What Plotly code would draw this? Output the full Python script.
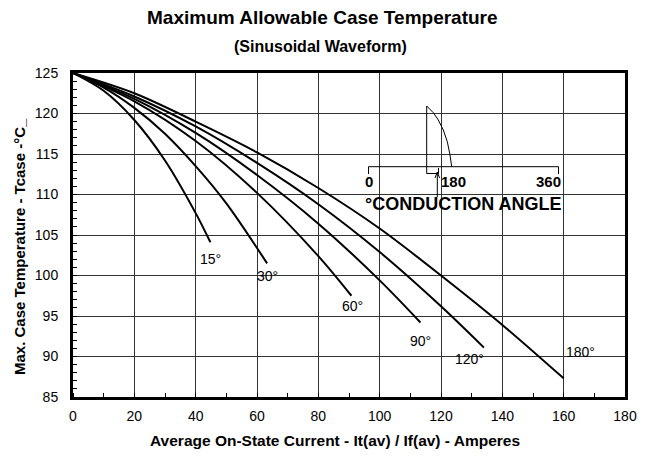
import plotly.graph_objects as go

# ---------------- data ----------------
x15 = [0, 10, 20, 30, 40, 44.8]
y15 = [125, 122.8, 119.2, 114.2, 107.7, 104.1]

x30 = [0, 10, 20, 30, 40, 50, 63.3]
y30 = [125, 123.2, 120.7, 117.5, 113.5, 108.9, 101.5]

x60 = [0, 20, 40, 60, 80, 90.8]
y60 = [125, 121.5, 116.6, 110.2, 102.4, 97.5]

x90 = [0, 20, 40, 60, 80, 100, 113.3]
y90 = [125, 121.8, 117.6, 112.4, 106.4, 99.4, 94.2]

x120 = [0, 20, 40, 60, 80, 100, 120, 134]
y120 = [125, 122.1, 118.4, 113.9, 108.8, 102.9, 96.2, 91.1]

x180 = [0, 20, 40, 60, 80, 100, 120, 140, 160]
y180 = [125, 122.5, 119.0, 115.2, 110.8, 105.8, 100.0, 93.9, 87.3]

curve_labels = ["15°", "30°", "60°", "90°", "120°", "180°"]
label_x = [44.9, 63.4, 91.0, 113.2, 129.3, 165.4]
label_y = [102.0, 99.95, 96.2, 91.9, 89.75, 90.5]

x_ticks = [0, 20, 40, 60, 80, 100, 120, 140, 160, 180]
y_ticks = [85, 90, 95, 100, 105, 110, 115, 120, 125]

title = "Maximum Allowable Case Temperature"
subtitle = "(Sinusoidal Waveform)"
x_title = "Average On-State Current - It(av) / If(av) - Amperes"
y_title = "Max. Case Temperature - Tcase -°C_"

# ---------------- figure ----------------
FONT = "Liberation Sans, Arial, sans-serif"
fig = go.Figure()

series = [(x15, y15), (x30, y30), (x60, y60), (x90, y90), (x120, y120), (x180, y180)]
for xs, ys in series:
    fig.add_trace(go.Scatter(x=xs, y=ys, mode="lines",
                             line=dict(color="black", width=2, shape="spline", smoothing=0.9),
                             showlegend=False, hoverinfo="skip"))

for t, lx, ly in zip(curve_labels, label_x, label_y):
    fig.add_annotation(x=lx, y=ly, text=t, showarrow=False, xanchor="center", yanchor="middle",
                       font=dict(family=FONT, size=14, color="black"))

# page geometry (the page body has an 8px margin)
OFF = 8
W, H = 650 - OFF, 458 - OFF
PL, PT, PR, PB = 73, 73, 625, 397          # plot area in page pixels
ML, MT = PL - OFF, PT - OFF
MR, MB = (W + OFF) - PR, (H + OFF) - PB
pw, ph = PR - PL, PB - PT


def px(p):
    return (p - PL) / pw * 180


def py(p):
    return 125 - (p - PT) / ph * 40


def ppx(p):
    return (p - PL) / pw


def ppy(p):
    return (PB - p) / ph


line_k = dict(color="black", width=1)
# bracket 0..360
fig.add_shape(type="path", xref="x", yref="y", line=line_k,
              path=f"M {px(368.5)},{py(174)} L {px(368.5)},{py(166.7)} L {px(558.5)},{py(166.7)} L {px(558.5)},{py(174)}")
# half-sine tail
pts = [(426.7, 106), (433.3, 112.7), (438.3, 120), (443.3, 130), (447.3, 141.7), (450, 155), (451.7, 166.7)]
path = f"M {px(426.7)},{py(173.5)} L {px(426.7)},{py(106)}"
for a, b in pts[1:]:
    path += f" L {px(a)},{py(b)}"
fig.add_shape(type="path", xref="x", yref="y", line=line_k, path=path)
# small bracket under
fig.add_shape(type="path", xref="x", yref="y", line=line_k,
              path=f"M {px(426.7)},{py(173.5)} L {px(438.5)},{py(173.5)} L {px(438.5)},{py(168)}")
# arrow
fig.add_shape(type="path", xref="x", yref="y", line=line_k,
              path=f"M {px(437.3)},{py(197)} L {px(437.3)},{py(172)} M {px(435)},{py(178)} L {px(437.3)},{py(172)} L {px(439.6)},{py(178)}")

for t, cx in [("0", 368.5), ("180", 453.5), ("360", 548.5)]:
    fig.add_annotation(x=px(cx), y=py(181), text=f"<b>{t}</b>", showarrow=False,
                       xanchor="center", yanchor="middle",
                       font=dict(family=FONT, size=15, color="black"))
fig.add_annotation(x=px(363), y=py(204), xanchor="left", yanchor="middle",
                   text="<b>°CONDUCTION ANGLE</b>", showarrow=False,
                   font=dict(family=FONT, size=18, color="black"))

# titles
fig.add_annotation(x=ppx(322.5), y=ppy(18), xref="paper", yref="paper", text=f"<b>{title}</b>",
                   xanchor="center", yanchor="middle",
                   showarrow=False, font=dict(family=FONT, size=19, color="black"))
fig.add_annotation(x=ppx(320.5), y=ppy(46), xref="paper", yref="paper", text=f"<b>{subtitle}</b>",
                   xanchor="center", yanchor="middle",
                   showarrow=False, font=dict(family=FONT, size=16, color="black"))
fig.add_annotation(x=ppx(335), y=ppy(440), xref="paper", yref="paper", text=f"<b>{x_title}</b>",
                   xanchor="center", yanchor="middle",
                   showarrow=False, font=dict(family=FONT, size=15.5, color="black"))
fig.add_annotation(x=ppx(20), y=ppy(247), xref="paper", yref="paper", text=f"<b>{y_title}</b>",
                   xanchor="center", yanchor="middle",
                   textangle=-90, showarrow=False, font=dict(family=FONT, size=15, color="black"))

axis_common = dict(showline=True, linecolor="black", linewidth=3, mirror=True,
                   showgrid=True, gridcolor="#333333", gridwidth=1, zeroline=False,
                   ticks="", tickfont=dict(family=FONT, size=14, color="black"))

fig.update_xaxes(range=[0, 180], tickvals=x_ticks, ticklabelstandoff=4, **axis_common,
                 minor=dict(dtick=10, ticks="inside", ticklen=4, tickcolor="black", showgrid=False))
fig.update_yaxes(range=[85, 125], tickvals=y_ticks, ticklabelstandoff=9, **axis_common,
                 minor=dict(dtick=1, ticks="inside", ticklen=4, tickcolor="black", showgrid=False))

fig.update_layout(width=W, height=H, margin=dict(l=ML, r=MR, t=MT, b=MB),
                  plot_bgcolor="white", paper_bgcolor="white",
                  font=dict(family=FONT, color="black"))

fig.write_html("out.html")
